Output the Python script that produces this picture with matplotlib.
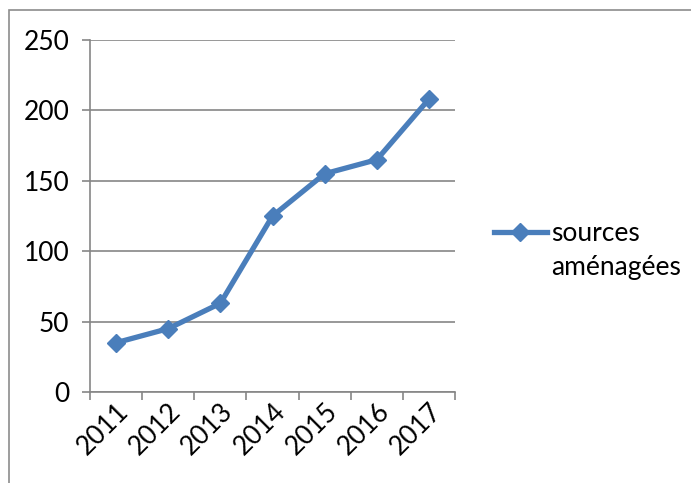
import matplotlib
matplotlib.use("Agg")
import matplotlib.pyplot as plt
import matplotlib.transforms as mtransforms
from matplotlib.lines import Line2D
from matplotlib.patches import Rectangle
from matplotlib.ticker import FixedLocator

years = ["2011", "2012", "2013", "2014", "2015", "2016", "2017"]
sources = [35, 45, 63, 125, 155, 165, 208]
legend_lines = ["sources", "aménagées"]

blue = "#4a7ebb"
grey = "#868686"

plt.rcParams["font.family"] = ["Lato", "DejaVu Sans"]

fig = plt.figure(figsize=(6.91, 4.83), dpi=100)
ax = fig.add_axes([90 / 691, 91 / 483, 365 / 691, 352 / 483])

# outer chart border (cut off at right / bottom like the screenshot)
fig.patches.append(Rectangle((9 / 691, -0.1), 1.2, 1 - 10 / 483 + 0.1,
                             transform=fig.transFigure, fill=False,
                             edgecolor="#8c8c8c", lw=1.2))

x = list(range(len(years)))
line, = ax.plot(x, sources, color=blue, lw=3.8, marker="D", ms=9,
                markerfacecolor=blue, markeredgecolor=blue,
                solid_joinstyle="round", zorder=3)

ax.set_xlim(-0.5, len(years) - 0.5)
ax.set_ylim(0, 250)
ax.set_yticks([0, 50, 100, 150, 200, 250])
ax.yaxis.grid(True, color=grey, lw=1.2)
ax.set_axisbelow(True)

ax.set_xticks(x)
ax.set_xticklabels(years, rotation=45, ha="right", va="top",
                   rotation_mode="anchor")
shift = mtransforms.ScaledTranslation(12 / 100, 0, fig.dpi_scale_trans)
for lbl in ax.get_xticklabels():
    lbl.set_transform(lbl.get_transform() + shift)
ax.xaxis.set_minor_locator(FixedLocator([i - 0.5 for i in range(len(years) + 1)]))
ax.tick_params(axis="x", which="major", length=0, labelsize=19, pad=5)
ax.tick_params(axis="x", which="minor", length=6, color=grey, width=1.2)
ax.tick_params(axis="y", length=6, color=grey, width=1.2, labelsize=19, pad=9)

for side in ["top", "right"]:
    ax.spines[side].set_visible(False)
for side in ["left", "bottom"]:
    ax.spines[side].set_color(grey)
    ax.spines[side].set_linewidth(1.2)

blank = Line2D([], [], alpha=0)
ax.legend([line, blank], legend_lines, loc="upper left",
          bbox_to_anchor=(1.107, 0.486), frameon=False, fontsize=19,
          handlelength=2.0, handletextpad=0.15, numpoints=1,
          labelspacing=0.35, borderpad=0, borderaxespad=0)

fig.savefig("out.png", dpi=100)
